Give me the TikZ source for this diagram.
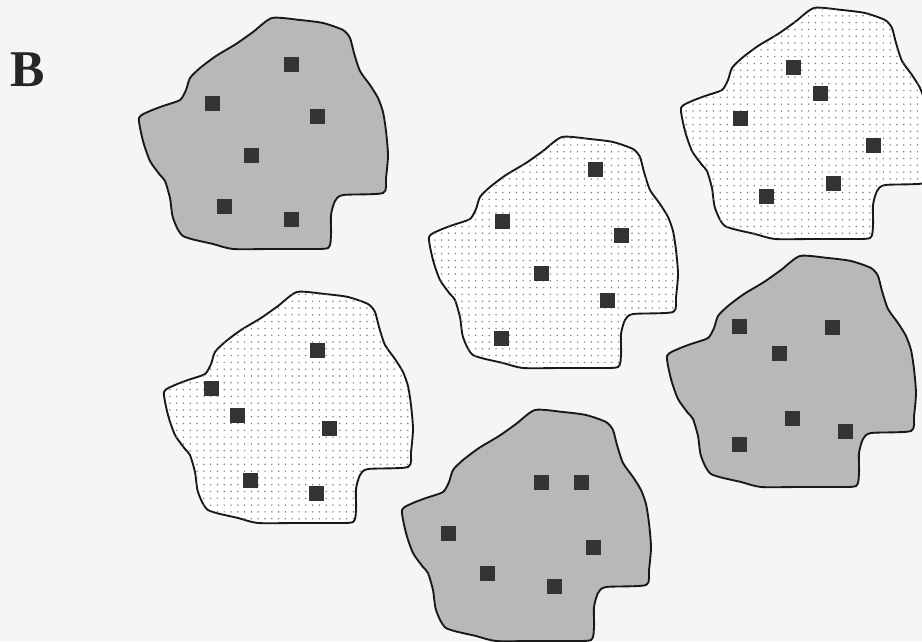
\documentclass[tikz,border=0pt]{standalone}
\usepackage{fontspec}
\setmainfont{Liberation Serif}
\usepackage{tikz}
\usetikzlibrary{patterns.meta}
\tikzdeclarepattern{
  name=sparsedots,
  type=colored,
  bottom left={(-2.9pt,-2.9pt)},
  top right={(2.9pt,2.9pt)},
  tile size={(5.8pt,5.8pt)},
  code={\fill[black!50] (0pt,0pt) circle (0.72pt);}
}
\tikzstyle{grayblob}=[draw=black!90,fill=black!28,line width=1.6pt]
\tikzstyle{dotblob}=[draw=black!90,fill=white,postaction={pattern=sparsedots},line width=1.6pt]
\tikzstyle{sitebox}=[rectangle,fill=black!80,minimum size=0.45cm,inner sep=0pt]
\tikzstyle{panel}=[font=\fontsize{44}{44}\selectfont\bfseries,text=black!85]
% one outline, shifted to each patch
\newcommand{\blob}[3]{\path[#3,shift={(#1,#2)}] plot[smooth cycle,tension=0.4] coordinates {
  (0,0) (11,-7) (24,-12) (41,-18) (47,-28) (51,-40) (61,-50) (77,-62) (97,-74) (114,-86)
  (133,-100) (161,-98) (184,-95) (204,-88) (211,-80) (215,-65) (221,-47) (231,-33) (239,-20)
  (244,-6) (247,13) (249,37) (247,60) (244,75) (204,77) (196,83) (192,97) (192,117) (189,130)
  (164,131) (131,131) (94,131) (74,126) (44,118) (34,100) (31,80) (26,63) (21,57) (11,43) (4,23)};}

\begin{document}
\begin{tikzpicture}[x=0.03cm,y=-0.03cm]
  \useasboundingbox (0,0) rectangle (922,641);
  \fill[black!4] (0,0) rectangle (922,641);
  \begin{scope}
    \clip (0,0) rectangle (922,641);
    \blob{139}{118}{grayblob}
    \blob{429}{237}{dotblob}
    \blob{681}{108}{dotblob}
    \blob{667}{356}{grayblob}
    \blob{164}{392}{dotblob}
    \blob{402}{510}{grayblob}
  \end{scope}
  \node[panel] (B) at (28,70) {B};
  \foreach [count=\i] \x/\y in {291/64,212/103,317/116,251/155,224/206,291/219,
      595/169,502/221,621/235,541/273,607/300,501/338,
      793/67,820/93,740/118,873/145,833/183,766/196,
      739/326,832/327,779/353,792/418,845/431,739/444,
      317/350,211/388,237/415,329/428,250/480,316/493,
      541/482,581/482,448/533,593/547,487/573,554/586}
    \node[sitebox] (s\i) at (\x,\y) {};
\end{tikzpicture}
\end{document}
